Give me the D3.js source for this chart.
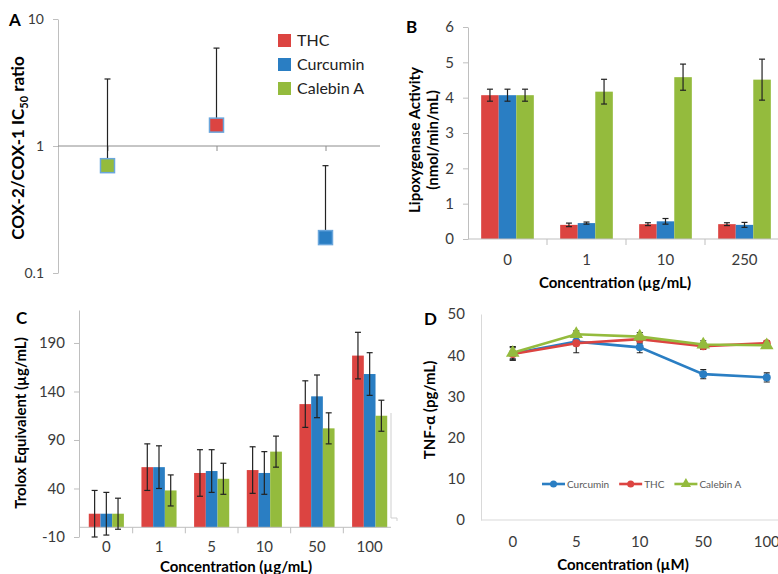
<!DOCTYPE html>
<html>
<head>
<meta charset="utf-8">
<script src="https://d3js.org/d3.v7.min.js"></script>
<style>
    body { margin: 0; background: #fff; }
    svg text { font-family: Lato, "Open Sans", sans-serif; }
</style>
</head>
<body>
<svg id="fig" width="778" height="574"></svg>
<script>
// ---- data ----
const seriesNames = ["THC", "Curcumin", "Calebin A"];

// A: COX-2/COX-1 IC50 ratio (log scale), upper error bar only
const coxCompounds = ["Calebin A", "THC", "Curcumin"];
const coxRatio = [0.70, 1.46, 0.19];
const coxUpper = [3.37, 5.9, 0.70];
const coxTicks = [0.1, 1, 10];

// B: lipoxygenase activity
const loxConc = ["0", "1", "10", "250"];
const loxTHC = [4.07, 0.40, 0.42, 0.42];
const loxTHCErr = [0.17, 0.05, 0.04, 0.04];
const loxCur = [4.07, 0.45, 0.50, 0.40];
const loxCurErr = [0.17, 0.03, 0.08, 0.07];
const loxCal = [4.07, 4.17, 4.58, 4.51];
const loxCalErr = [0.17, 0.35, 0.37, 0.58];
const loxTicks = [0, 1, 2, 3, 4, 5, 6];

// C: Trolox equivalent
const troConc = ["0", "1", "5", "10", "50", "100"];
const troTHC = [14, 62, 56, 59, 127, 177];
const troTHCErr = [24, 24, 24, 24, 24, 24];
const troCur = [14, 62, 58, 56, 135, 158];
const troCurErr = [22, 22, 22, 22, 22, 22];
const troCal = [14, 38, 50, 78, 102, 115];
const troCalErr = [16, 16, 16, 16, 16, 16];
const troTicks = [-10, 40, 90, 140, 190];

// D: TNF-alpha
const tnfConc = ["0", "5", "10", "50", "100"];
const tnfCur = [40.4, 43.3, 41.9, 35.4, 34.6];
const tnfCurErr = [1.6, 1.0, 1.3, 1.1, 1.1];
const tnfTHC = [40.3, 42.9, 43.9, 42.2, 42.9];
const tnfTHCErr = [1.5, 2.3, 1.0, 0.8, 0.6];
const tnfCal = [40.6, 45.1, 44.5, 42.6, 42.4];
const tnfCalErr = [1.5, 0.8, 1.0, 0.9, 0.6];
const tnfTicks = [0, 10, 20, 30, 40, 50];

// ---- styles ----
const color = d3.scaleOrdinal(seriesNames, ["#dc4441", "#2a7ec3", "#94bb3d"]);
const axisGray = "#bfbfbf";
const tickText = "#3a3a3a";
const errColor = "#222";

const svg = d3.select("#fig");
svg.append("rect").attr("width", 778).attr("height", 574).attr("fill", "#fff");

function styleAxis(g, size) {
    g.attr("font-family", "Lato, 'Open Sans', sans-serif").attr("font-size", size);
    g.selectAll(".domain, .tick line").attr("stroke", axisGray);
    g.selectAll(".tick text").attr("fill", tickText);
}

function panelLetter(txt, x, y) {
    svg.append("text").attr("x", x).attr("y", y)
        .attr("font-size", 17).attr("font-weight", "bold").text(txt);
}

function yTitle(x, y, size) {
    return svg.append("text")
        .attr("transform", `translate(${x},${y}) rotate(-90)`)
        .attr("text-anchor", "middle").attr("font-weight", "bold")
        .attr("font-size", size);
}

// ================= A =================
{
    const y = d3.scaleLog().domain([0.1, 10]).range([273, 19]);
    const x = d3.scalePoint().domain(coxCompounds).range([53, 380]).padding(0.5);

    svg.append("g").attr("transform", "translate(58,0)")
        .call(d3.axisLeft(y).tickValues(coxTicks).tickFormat(d => String(d)).tickSize(5).tickSizeOuter(0).tickPadding(9))
        .call(g => styleAxis(g, 14));

    svg.append("g").attr("transform", `translate(0,${y(1)})`)
        .call(d3.axisBottom(x).tickSize(5).tickSizeOuter(0).tickFormat(""))
        .call(g => styleAxis(g, 14))
        .call(g => g.select(".domain").attr("d", "M58,0H380").attr("stroke", "#8c8c8c"))
        .call(g => g.selectAll(".tick line").attr("stroke", "#8c8c8c"));

    const pts = coxCompounds.map((c, i) => ({ c, v: coxRatio[i], up: coxUpper[i] }));
    const eb = svg.append("g").attr("stroke", errColor).attr("stroke-width", 1.2);
    eb.selectAll("line.v").data(pts).join("line").attr("class", "v")
        .attr("x1", d => x(d.c)).attr("x2", d => x(d.c))
        .attr("y1", d => y(d.v)).attr("y2", d => y(d.up));
    eb.selectAll("line.c").data(pts).join("line").attr("class", "c")
        .attr("x1", d => x(d.c) - 3).attr("x2", d => x(d.c) + 3)
        .attr("y1", d => y(d.up)).attr("y2", d => y(d.up));

    svg.append("g").selectAll("rect").data(pts).join("rect")
        .attr("x", d => x(d.c) - 7).attr("y", d => y(d.v) - 7)
        .attr("width", 14).attr("height", 14)
        .attr("fill", d => color(d.c))
        .attr("stroke", "#6aa6dc").attr("stroke-width", 1.5);

    const lg = svg.append("g").attr("transform", "translate(278,34)");
    const item = lg.selectAll("g").data(seriesNames).join("g")
        .attr("transform", (d, i) => `translate(0,${i * 24})`);
    item.append("rect").attr("width", 13).attr("height", 13).attr("fill", d => color(d));
    item.append("text").attr("x", 19).attr("y", 12).attr("font-size", 16)
        .attr("fill", "#222").text(d => d);

    panelLetter("A", 9, 26);
    const t = yTitle(24, 148, 17);
    t.append("tspan").text("COX-2/COX-1 IC");
    t.append("tspan").attr("font-size", 11).attr("dy", 4).text("50");
    t.append("tspan").attr("dy", -4).text(" ratio");
}

// ============ bar panels (B, C) ============
function barPanel(opt) {
    const { cats, vals, errs, domain, ticks, yRange, xRange, axisLeftX, tickSize, labelY } = opt;
    const y = d3.scaleLinear().domain(domain).range(yRange);
    const x = d3.scaleBand().domain(cats).range(xRange);
    const xs = d3.scaleBand().domain(seriesNames).range([0, x.bandwidth()]).paddingOuter(0.75);

    svg.append("g").attr("transform", `translate(${axisLeftX},0)`)
        .call(d3.axisLeft(y).tickValues(ticks).tickFormat(d => String(d)).tickSize(5).tickSizeOuter(0).tickPadding(9))
        .call(g => styleAxis(g, tickSize));

    const rows = [];
    cats.forEach((c, i) => seriesNames.forEach((s, j) => {
        rows.push({ c, s, v: vals[j][i], e: errs[j][i] });
    }));

    svg.append("g").selectAll("rect").data(rows).join("rect")
        .attr("x", d => x(d.c) + xs(d.s))
        .attr("width", xs.bandwidth())
        .attr("y", d => y(Math.max(0, d.v)))
        .attr("height", d => Math.abs(y(d.v) - y(0)))
        .attr("fill", d => color(d.s));

    // category axis at zero
    const y0 = y(0);
    const xa = svg.append("g");
    xa.append("line").attr("x1", axisLeftX).attr("x2", Math.min(xRange[1], opt.axisEnd))
        .attr("y1", y0).attr("y2", y0).attr("stroke", axisGray);
    xa.selectAll("line.b").data(cats.slice(1)).join("line").attr("class", "b")
        .attr("x1", d => x(d)).attr("x2", d => x(d))
        .attr("y1", y0).attr("y2", y0 + 6).attr("stroke", axisGray);
    xa.selectAll("text").data(cats).join("text")
        .attr("x", d => x(d) + x.bandwidth() / 2).attr("y", labelY)
        .attr("text-anchor", "middle").attr("dominant-baseline", "middle")
        .attr("font-size", tickSize).attr("fill", tickText).text(d => d);

    const eb = svg.append("g").attr("stroke", errColor).attr("stroke-width", 1.2);
    const cx = d => x(d.c) + xs(d.s) + xs.bandwidth() / 2;
    eb.selectAll("line.v").data(rows).join("line").attr("class", "v")
        .attr("x1", cx).attr("x2", cx)
        .attr("y1", d => y(d.v - d.e)).attr("y2", d => y(d.v + d.e));
    eb.selectAll("line.t").data(rows).join("line").attr("class", "t")
        .attr("x1", d => cx(d) - 3).attr("x2", d => cx(d) + 3)
        .attr("y1", d => y(d.v + d.e)).attr("y2", d => y(d.v + d.e));
    eb.selectAll("line.b").data(rows).join("line").attr("class", "b")
        .attr("x1", d => cx(d) - 3).attr("x2", d => cx(d) + 3)
        .attr("y1", d => y(d.v - d.e)).attr("y2", d => y(d.v - d.e));
    return { x, y };
}

// ================= B =================
barPanel({
    cats: loxConc,
    vals: [loxTHC, loxCur, loxCal],
    errs: [loxTHCErr, loxCurErr, loxCalErr],
    domain: [0, 6], ticks: loxTicks,
    yRange: [239, 27], xRange: [468, 784], axisLeftX: 468, axisEnd: 778,
    tickSize: 15, labelY: 261
});
panelLetter("B", 406, 33);
{
    const t = yTitle(420, 140, 15);
    t.append("tspan").attr("x", 0).attr("dy", 0).text("Lipoxygenase Activity");
    t.append("tspan").attr("x", 0).attr("dy", 18).text("(nmol/min/mL)");
}
svg.append("text").attr("x", 615).attr("y", 288).attr("text-anchor", "middle")
    .attr("font-size", 15).attr("font-weight", "bold").text("Concentration (\u00b5g/mL)");

// ================= C =================
barPanel({
    cats: troConc,
    vals: [troTHC, troCur, troCal],
    errs: [troTHCErr, troCurErr, troCalErr],
    domain: [-10, 224], ticks: troTicks,
    yRange: [537, 310], xRange: [80, 396], axisLeftX: 79, axisEnd: 391,
    tickSize: 15, labelY: 548
});
panelLetter("C", 16, 324);
yTitle(26, 423, 15).text("Trolox Equivalent (\u00b5g/mL)");
svg.append("text").attr("x", 236).attr("y", 572).attr("text-anchor", "middle")
    .attr("font-size", 15).attr("font-weight", "bold").text("Concentration (\u00b5g/mL)");
// faint frame edge of panel C
svg.append("path").attr("d", "M391,413V518H397V521").attr("fill", "none").attr("stroke", "#cfcfcf");

// ================= D =================
{
    const y = d3.scaleLinear().domain([0, 50]).range([520, 314]);
    const x = d3.scalePoint().domain(tnfConc).range([481, 798.5]).padding(0.5);

    svg.append("g").attr("transform", "translate(481,0)")
        .call(d3.axisLeft(y).tickValues(tnfTicks).tickSize(0).tickPadding(16))
        .call(g => styleAxis(g, 15))
        .call(g => g.select(".domain").attr("stroke", "#d9d9d9"));
    svg.append("line").attr("x1", 481).attr("x2", 778).attr("y1", y(0)).attr("y2", y(0))
        .attr("stroke", "#d9d9d9");
    svg.append("g").selectAll("text").data(tnfConc).join("text")
        .attr("x", d => x(d)).attr("y", 543)
        .attr("text-anchor", "middle").attr("dominant-baseline", "middle")
        .attr("font-size", 15).attr("fill", tickText).text(d => d);

    const series = [
        { name: "Curcumin", vals: tnfCur, errs: tnfCurErr, shape: "circle" },
        { name: "THC", vals: tnfTHC, errs: tnfTHCErr, shape: "circle" },
        { name: "Calebin A", vals: tnfCal, errs: tnfCalErr, shape: "triangle" }
    ];
    const line = d3.line().x(d => x(d.c)).y(d => y(d.v));
    const tri = d3.symbol(d3.symbolTriangle, 80);

    // error bars first
    const eb = svg.append("g").attr("stroke", errColor).attr("stroke-width", 1.1);
    series.forEach(s => {
        const pts = tnfConc.map((c, i) => ({ c, v: s.vals[i], e: s.errs[i] }));
        eb.append("g").selectAll("path").data(pts).join("path")
            .attr("fill", "none")
            .attr("d", d => `M${x(d.c) - 3},${y(d.v + d.e)}H${x(d.c) + 3}M${x(d.c)},${y(d.v + d.e)}V${y(d.v - d.e)}M${x(d.c) - 3},${y(d.v - d.e)}H${x(d.c) + 3}`);
    });

    series.forEach(s => {
        const pts = tnfConc.map((c, i) => ({ c, v: s.vals[i] }));
        const g = svg.append("g");
        g.append("path").datum(pts).attr("d", line)
            .attr("fill", "none").attr("stroke", color(s.name)).attr("stroke-width", 2.6);
        if (s.shape === "circle") {
            g.selectAll("circle").data(pts).join("circle")
                .attr("cx", d => x(d.c)).attr("cy", d => y(d.v)).attr("r", 4)
                .attr("fill", color(s.name));
        } else {
            g.selectAll("path.m").data(pts).join("path").attr("class", "m")
                .attr("transform", d => `translate(${x(d.c)},${y(d.v)})`)
                .attr("d", tri).attr("fill", color(s.name));
        }
    });

    // legend
    const lg = svg.append("g").attr("transform", "translate(542,484)");
    let off = 0;
    series.forEach(s => {
        const g = lg.append("g").attr("transform", `translate(${off},0)`);
        g.append("line").attr("x1", 0).attr("x2", 23).attr("stroke", color(s.name)).attr("stroke-width", 2.6);
        if (s.shape === "circle") g.append("circle").attr("cx", 11.5).attr("r", 3.5).attr("fill", color(s.name));
        else g.append("path").attr("transform", "translate(11.5,0)").attr("d", d3.symbol(d3.symbolTriangle, 45)).attr("fill", color(s.name));
        const t = g.append("text").attr("x", 25).attr("y", 3.5).attr("font-size", 10)
            .attr("fill", "#595959").text(s.name);
        off += 25 + t.node().getComputedTextLength() + 10;
    });

    panelLetter("D", 424, 325);
    yTitle(435, 410, 15).text("TNF-\u03b1 (pg/mL)");
    svg.append("text").attr("x", 623).attr("y", 570).attr("text-anchor", "middle")
        .attr("font-size", 15).attr("font-weight", "bold").text("Concentration (\u00b5M)");
}
</script>
</body>
</html>
